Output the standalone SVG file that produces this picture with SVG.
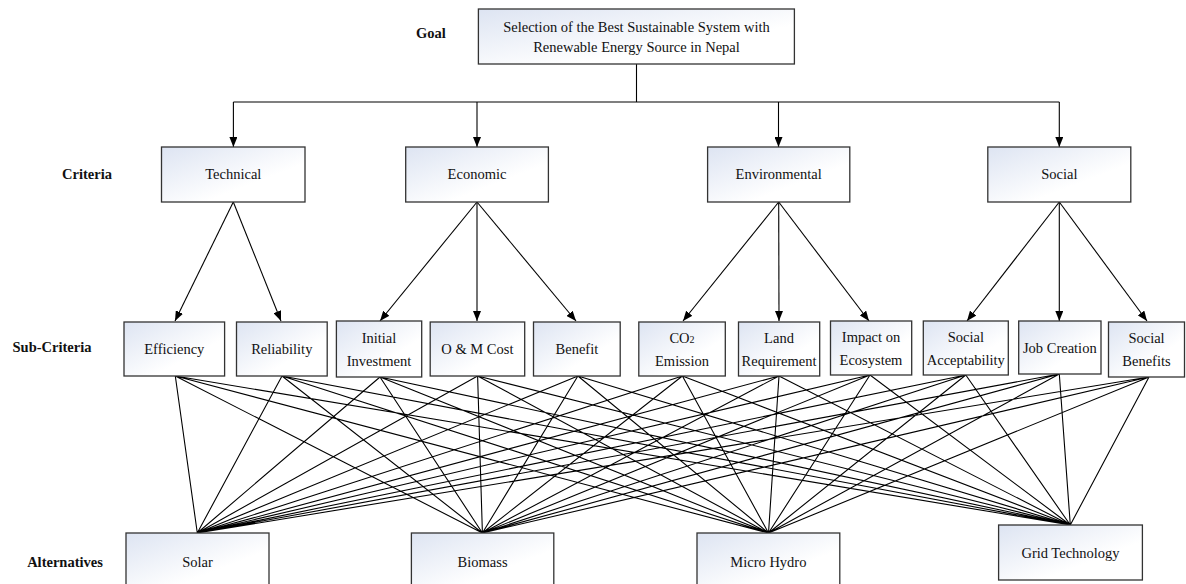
<svg xmlns="http://www.w3.org/2000/svg" width="1186" height="584" viewBox="0 0 1186 584">
<defs>
<linearGradient id="bg" x1="0" y1="0" x2="1" y2="1">
<stop offset="0" stop-color="#dde4f2"/>
<stop offset="0.65" stop-color="#ffffff"/>
</linearGradient>
<marker id="ah" markerUnits="userSpaceOnUse" markerWidth="10" markerHeight="8" refX="10" refY="4" orient="auto">
<path d="M0,0 L10,4 L0,8 z" fill="#000"/>
</marker>
<style>
.box{fill:url(#bg);stroke:#333;stroke-width:1.3}
.t{font-family:"Liberation Serif","Times New Roman",serif;font-size:14.5px;fill:#111;text-anchor:middle}
.lb{font-family:"Liberation Serif","Times New Roman",serif;font-size:14.5px;font-weight:bold;fill:#111;text-anchor:middle}
.c{stroke:#000;stroke-width:1.1;fill:none}
.a{stroke:#000;stroke-width:1.1;fill:none;marker-end:url(#ah)}
</style>
</defs>
<rect width="1186" height="584" fill="#fff"/>

<g id="labels">
<text class="lb" x="431" y="38">Goal</text>
<text class="lb" x="87" y="179">Criteria</text>
<text class="lb" x="52" y="352">Sub-Criteria</text>
<text class="lb" x="65" y="567">Alternatives</text>
</g>

<g id="connectors">
<path class="c" d="M636.5,64 V102 M233.4,102 H1059.3"/>
<line class="a" x1="233.4" y1="102" x2="233.4" y2="147"/>
<line class="a" x1="477" y1="102" x2="477" y2="147"/>
<line class="a" x1="778.5" y1="102" x2="778.5" y2="147"/>
<line class="a" x1="1059.3" y1="102" x2="1059.3" y2="147"/>

<line class="a" x1="233.3" y1="202" x2="175" y2="321"/>
<line class="a" x1="233.3" y1="202" x2="281" y2="321"/>
<line class="a" x1="477" y1="202" x2="380" y2="321"/>
<line class="a" x1="477" y1="202" x2="477" y2="321"/>
<line class="a" x1="477" y1="202" x2="576" y2="321"/>
<line class="a" x1="778.7" y1="202" x2="683" y2="321"/>
<line class="a" x1="778.7" y1="202" x2="779" y2="321"/>
<line class="a" x1="778.7" y1="202" x2="869" y2="321"/>
<line class="a" x1="1059.3" y1="202" x2="967" y2="321"/>
<line class="a" x1="1059.3" y1="202" x2="1059.3" y2="321"/>
<line class="a" x1="1059.3" y1="202" x2="1147" y2="321"/>

<path class="c" d="
M175.3,376 L197.3,533 M175.3,376 L482.4,533 M175.3,376 L768.5,533 M175.3,376 L1070.3,525
M282,376 L197.3,533 M282,376 L482.4,533 M282,376 L768.5,533 M282,376 L1070.3,525
M380,377 L197.3,533 M380,377 L482.4,533 M380,377 L768.5,533 M380,377 L1070.3,525
M477.6,376 L197.3,533 M477.6,376 L482.4,533 M477.6,376 L768.5,533 M477.6,376 L1070.3,525
M577.9,376 L197.3,533 M577.9,376 L482.4,533 M577.9,376 L768.5,533 M577.9,376 L1070.3,525
M682.4,376 L197.3,533 M682.4,376 L482.4,533 M682.4,376 L768.5,533 M682.4,376 L1070.3,525
M779,376 L197.3,533 M779,376 L482.4,533 M779,376 L768.5,533 M779,376 L1070.3,525
M870,375 L197.3,533 M870,375 L482.4,533 M870,375 L768.5,533 M870,375 L1070.3,525
M965.8,375 L197.3,533 M965.8,375 L482.4,533 M965.8,375 L768.5,533 M965.8,375 L1070.3,525
M1059.3,374 L197.3,533 M1059.3,374 L482.4,533 M1059.3,374 L768.5,533 M1059.3,374 L1070.3,525
M1149,377 L197.3,533 M1149,377 L482.4,533 M1149,377 L768.5,533 M1149,377 L1070.3,525"/>
</g>

<g id="goal">
<rect class="box" x="478.4" y="9" width="316" height="55"/>
<text class="t" x="636.5" y="32">Selection of the Best Sustainable System with</text>
<text class="t" x="636.5" y="52">Renewable Energy Source in Nepal</text>
</g>

<g id="technical"><rect class="box" x="161.5" y="147" width="143.5" height="55"/><text class="t" x="233.3" y="179">Technical</text></g>
<g id="economic"><rect class="box" x="405.7" y="147" width="142.7" height="55"/><text class="t" x="477" y="179">Economic</text></g>
<g id="environmental"><rect class="box" x="707.6" y="147" width="142.2" height="55"/><text class="t" x="778.7" y="179">Environmental</text></g>
<g id="social"><rect class="box" x="987.8" y="147" width="143" height="55"/><text class="t" x="1059.3" y="179">Social</text></g>

<g id="efficiency"><rect class="box" x="124" y="322" width="100.6" height="54"/><text class="t" x="174.3" y="354">Efficiency</text></g>
<g id="reliability"><rect class="box" x="236.5" y="322" width="90.7" height="54"/><text class="t" x="281.8" y="354">Reliability</text></g>
<g id="initial-investment"><rect class="box" x="336.4" y="321" width="85.3" height="56"/><text class="t" x="379" y="343">Initial</text><text class="t" x="379" y="366">Investment</text></g>
<g id="om-cost"><rect class="box" x="430.2" y="322" width="94.5" height="54"/><text class="t" x="477.4" y="354">O &amp; M Cost</text></g>
<g id="benefit"><rect class="box" x="533.5" y="322" width="86.7" height="54"/><text class="t" x="576.9" y="354">Benefit</text></g>
<g id="co2-emission"><rect class="box" x="638.8" y="322" width="86.5" height="54"/><text class="t" x="682" y="343">CO<tspan font-size="10">2</tspan></text><text class="t" x="682" y="366">Emission</text></g>
<g id="land-requirement"><rect class="box" x="738.5" y="322" width="81.2" height="54"/><text class="t" x="779" y="343">Land</text><text class="t" x="779" y="366">Requirement</text></g>
<g id="impact-ecosystem"><rect class="box" x="830.5" y="321" width="81.2" height="54"/><text class="t" x="871" y="342">Impact on</text><text class="t" x="871" y="365">Ecosystem</text></g>
<g id="social-acceptability"><rect class="box" x="923.3" y="321" width="85" height="54"/><text class="t" x="965.8" y="342">Social</text><text class="t" x="965.8" y="365">Acceptability</text></g>
<g id="job-creation"><rect class="box" x="1018.7" y="321" width="82.3" height="53"/><text class="t" x="1059.8" y="353">Job Creation</text></g>
<g id="social-benefits"><rect class="box" x="1108.5" y="322" width="76" height="55"/><text class="t" x="1146.5" y="343">Social</text><text class="t" x="1146.5" y="366">Benefits</text></g>

<g id="solar"><rect class="box" x="126" y="533" width="143" height="56"/><text class="t" x="197.5" y="567">Solar</text></g>
<g id="biomass"><rect class="box" x="411.4" y="533" width="142.4" height="56"/><text class="t" x="482.6" y="567">Biomass</text></g>
<g id="micro-hydro"><rect class="box" x="697" y="533" width="142.8" height="56"/><text class="t" x="768.4" y="567">Micro Hydro</text></g>
<g id="grid-technology"><rect class="box" x="998.6" y="525" width="143.8" height="55"/><text class="t" x="1070.5" y="558">Grid Technology</text></g>
</svg>
